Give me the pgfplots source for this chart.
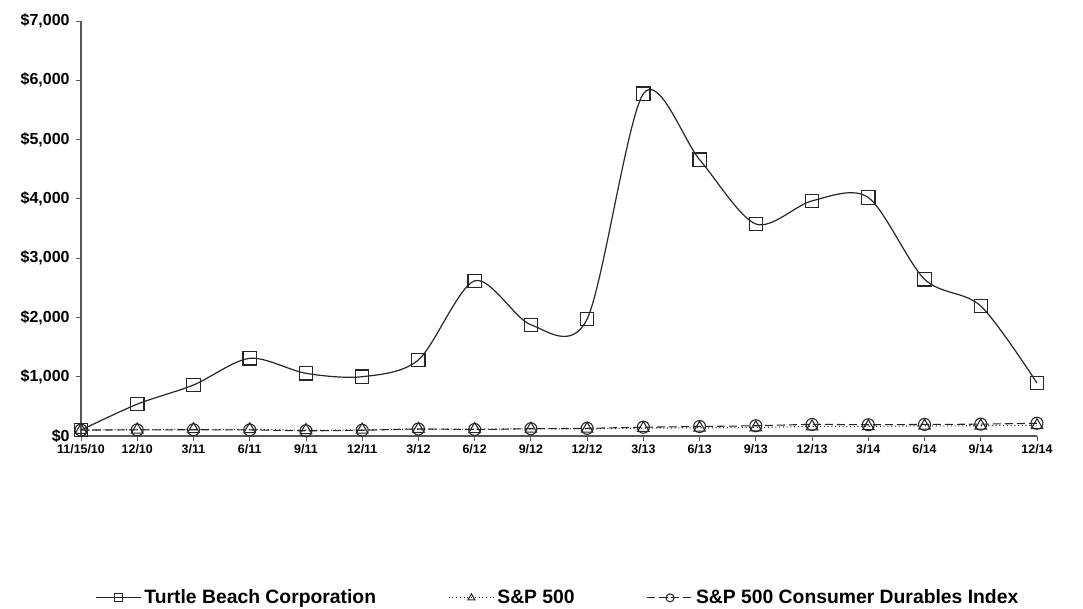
\documentclass[border=0pt]{standalone}
\usepackage{pgfplots}
\pgfplotsset{compat=1.18}
\usepackage{fontspec}
\setmainfont{Liberation Sans}
\pgfplotstableread{
x tb sp cd
0 100 100 100
1 537 106 103
2 860 112 105
3 1310 112 102
4 1057 97 88
5 1000 104 97
6 1283 117 118
7 2617 114 110
8 1876 121 122
9 1973 120 130
10 5773 133 148
11 4661 137 160
12 3576 144 173
13 3966 160 195
14 4023 163 190
15 2644 171 195
16 2193 173 200
17 893 181 215
}\datatable
\begin{document}
\begin{tikzpicture}
\useasboundingbox (-60.75pt,-129.75pt) rectangle (751.5pt,327pt);
\begin{axis}[
  at={(0,0)}, anchor=south west,
  scale only axis, width=717pt, height=311.25pt,
  xmin=0, xmax=17, ymin=0, ymax=7000,
  axis lines=left, axis line style={-, gray!70!black, line width=0.8pt},
  ytick={0,1000,2000,3000,4000,5000,6000,7000},
  yticklabels={{\$0},{\$1,000},{\$2,000},{\$3,000},{\$4,000},{\$5,000},{\$6,000},{\$7,000}},
  xtick={0,...,17},
  xticklabels={11/15/10,12/10,3/11,6/11,9/11,12/11,3/12,6/12,9/12,12/12,3/13,6/13,9/13,12/13,3/14,6/14,9/14,12/14},
  yticklabel style={font=\fontsize{12}{14}\selectfont\bfseries, xshift=-1pt},
  xticklabel style={font=\fontsize{9.3}{11}\selectfont\bfseries, yshift=1pt},
  tick style={gray!70!black, line width=0.6pt},
  major tick length=4pt,
  tick align=outside,
  legend columns=3,
  legend style={draw=none, at={(0.499,-0.39)}, anchor=center,
    font=\fontsize{14.5}{17}\selectfont\bfseries,
    /tikz/every even column/.append style={column sep=52pt}},
  legend cell align=left,
  legend image code/.code={\draw[mark repeat=2,mark phase=2,#1,mark size=3pt] plot coordinates {(0cm,0cm) (0.6cm,0cm) (1.2cm,0cm)};},
]
\addplot[black!85, line width=0.9pt, smooth, mark=square, mark size=5pt, mark options={solid, line width=0.9pt, fill=none}] table[x=x,y=tb]{\datatable};
\addlegendentry{Turtle Beach Corporation}
\addplot[black!85, line width=0.8pt, dotted, smooth, mark=triangle, mark size=5pt, mark options={solid, line width=0.8pt}] table[x=x,y=sp]{\datatable};
\addlegendentry{S\&P 500}
\addplot[black!85, line width=0.8pt, dash pattern=on 6pt off 3pt, smooth, mark=o, mark size=4.5pt, mark options={solid, line width=0.8pt}] table[x=x,y=cd]{\datatable};
\addlegendentry{S\&P 500 Consumer Durables Index}
\end{axis}
\end{tikzpicture}
\end{document}
